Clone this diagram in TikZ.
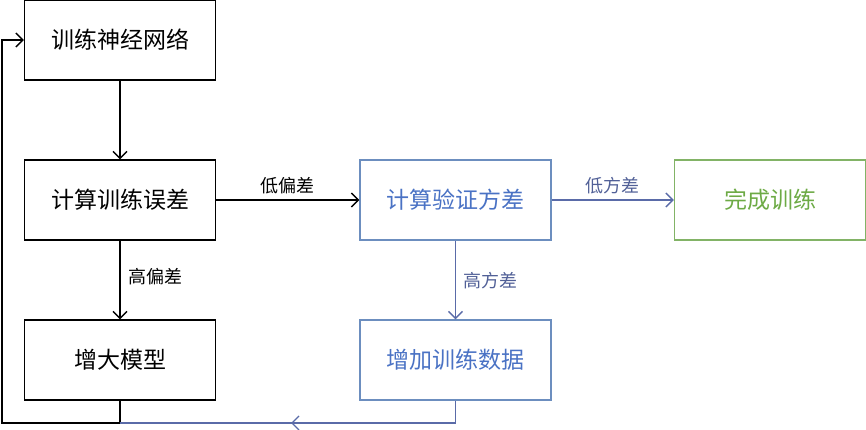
\documentclass[tikz,border=0pt]{standalone}
\usepackage{fontspec}
\newfontfamily\cjk{Noto Sans CJK SC}
\usetikzlibrary{arrows.meta,decorations.markings}
\definecolor{bbord}{HTML}{6C8EBF}
\definecolor{btext}{HTML}{4A72C4}
\definecolor{bline}{HTML}{5A6BA8}
\definecolor{gbord}{HTML}{82B366}
\definecolor{gtext}{HTML}{6DAA45}
\tikzset{
  boxk/.style={draw=black,line width=1.4pt,minimum width=191pt,minimum height=80pt,inner sep=0pt,font=\cjk\fontsize{23}{25}\selectfont},
  boxb/.style={boxk,draw=bbord,text=btext},
  boxg/.style={boxk,draw=gbord,text=gtext},
  conn/.style={line width=1.3pt,-{Straight Barb[length=7pt,width=14pt,line width=1.3pt]}},
  lbl/.style={font=\cjk\fontsize{18}{20}\selectfont},
  midarr/.style={decoration={markings,mark=at position 0.49 with {\arrow{Straight Barb[length=7pt,width=14pt,line width=1.3pt]}}},postaction={decorate}}
}
\begin{document}
\begin{tikzpicture}[x=1pt,y=-1pt]
\useasboundingbox (0,0) rectangle (866,430);
\node[boxk] (train) at (120,40) {训练神经网络};
\node[boxk] (err) at (120,200) {计算训练误差};
\node[boxk] (big) at (120,360) {增大模型};
\node[boxb] (val) at (455.5,200) {计算验证方差};
\node[boxb] (data) at (455.5,360) {增加训练数据};
\node[boxg] (done) at (770,200) {完成训练};
\coordinate (c1) at (120,423);
\coordinate (c2) at (2,423);
\coordinate (c3) at (2,40);
\coordinate (c4) at (455.5,423);
\draw[conn] (train) -- (err);
\draw[conn] (err) -- node[lbl,right,xshift=5pt,yshift=3pt]{高偏差} (big);
\draw[conn] (err) -- node[lbl,above,yshift=2pt]{低偏差} (val);
\draw[conn,bline] (val) -- node[lbl,right,xshift=4pt,yshift=-1pt,text=bline!90!black]{高方差} (data);
\draw[conn,bline] (val) -- node[lbl,above,yshift=2pt,text=bline!90!black]{低方差} (done);
\draw[conn] (big.south) -- (c1) -- (c2) -- (c3) -- (train.west);
\draw[line width=1.3pt,bline] (data.south) -- (c4);
\draw[line width=1.3pt,bline,midarr] (c4) -- (c1);
\end{tikzpicture}
\end{document}
